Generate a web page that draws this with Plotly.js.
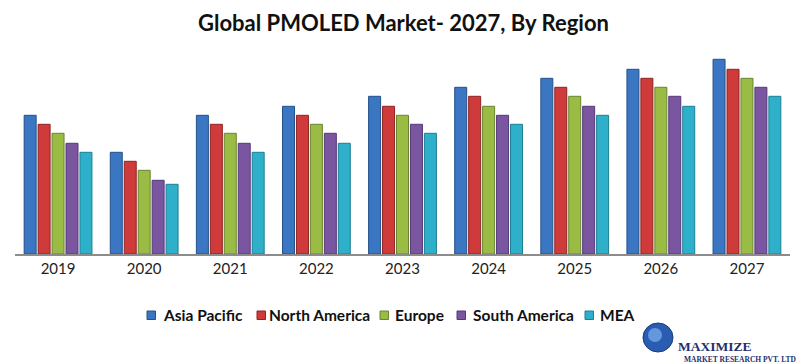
<!DOCTYPE html>
<html><head><meta charset="utf-8">
<script src="https://cdn.plot.ly/plotly-3.0.1.min.js"></script>
<style>html,body{margin:0;padding:0;background:#fff;}#chart{width:807px;height:364px;}</style>
</head><body><div id="chart"></div>
<script>
const years = ["2019","2020","2021","2022","2023","2024","2025","2026","2027"];
const seriesNames = ["Asia Pacific","North America","Europe","South America","MEA"];
const asiaPacific   = [138.7, 101.7, 138.7, 147.7, 157.7, 166.7, 175.7, 184.7, 194.7];
const northAmerica  = [129.7,  92.7, 129.7, 138.7, 147.7, 157.7, 166.7, 175.7, 184.7];
const europe        = [120.7,  83.7, 120.7, 129.7, 138.7, 147.7, 157.7, 166.7, 175.7];
const southAmerica  = [110.7,  73.7, 110.7, 120.7, 129.7, 138.7, 147.7, 157.7, 166.7];
const mea           = [101.7,  69.7, 101.7, 110.7, 120.7, 129.7, 138.7, 147.7, 157.7];
const seriesValues = [asiaPacific, northAmerica, europe, southAmerica, mea];
const colors = ["#3b76c2","#cf3a3a","#9abb44","#7a56a0","#2eb0cb"];
const lines  = ["#24508a","#8e2424","#6a8530","#54397a","#1d7f93"];

const traces = seriesNames.map((n,i)=>({
  type:"bar", name:n, x:years, y:seriesValues[i],
  marker:{color:colors[i], line:{color:lines[i], width:1}},
  hoverinfo:"skip", showlegend:false
}));

// plot area: x 15..790 px, y 54..254 px
const PX = px => (px-15)/775;
const PY = py => (254-py)/200;

// custom compact legend (marker left px, text left px)
const legendPos = [[147,161],[257,267],[380,393],[457,471],[585,598]];
const shapes = [];
const annotations = [];
seriesNames.forEach((n,i)=>{
  const [mx,tx] = legendPos[i];
  shapes.push({type:"rect", xref:"paper", yref:"paper", x0:PX(mx), x1:PX(mx+8.5), y0:PY(319.5), y1:PY(311),
    fillcolor:colors[i], line:{color:lines[i], width:1}});
  annotations.push({xref:"paper", yref:"paper", x:PX(tx), y:PY(315), xanchor:"left", yanchor:"middle",
    showarrow:false, text:"<b>"+n+"</b>", font:{family:"Lato, 'Open Sans', sans-serif", size:15.5, color:"#111"}});
});

// logo
shapes.push({type:"circle", xref:"paper", yref:"paper", x0:PX(643), x1:PX(673), y0:PY(352), y1:PY(323),
  fillcolor:"#2a5cb2", line:{color:"#1a3a7e", width:1}});
shapes.push({type:"circle", xref:"paper", yref:"paper", x0:PX(648), x1:PX(662), y0:PY(342), y1:PY(328),
  fillcolor:"rgba(150,200,255,0.55)", line:{width:0}});
annotations.push({xref:"paper", yref:"paper", x:PX(715), y:PY(346.5), xanchor:"center", yanchor:"middle", showarrow:false,
  borderpad:0, text:"<b>MAXIMIZE</b>", font:{family:"'Liberation Serif', serif", size:13.5, color:"#1f2f6e"}});
annotations.push({xref:"paper", yref:"paper", x:PX(740), y:PY(359.5), xanchor:"center", yanchor:"middle", showarrow:false,
  borderpad:0, text:"<b>MARKET RESEARCH PVT. LTD</b>", font:{family:"'Liberation Serif', serif", size:7.5, color:"#1f2f6e"}});

const layout = {
  width:807, height:364,
  margin:{l:15, r:17, t:54, b:110},
  paper_bgcolor:"#fff", plot_bgcolor:"#fff",
  title:{text:"<b>Global PMOLED Market- 2027, By Region</b>", x:0.5, xanchor:"center", y:0.935, yanchor:"middle",
         font:{family:"Lato, 'Open Sans', sans-serif", size:22, color:"#111"}},
  barmode:"group", bargap:0.19, bargroupgap:0.14,
  xaxis:{showgrid:false, zeroline:false, showline:true, linecolor:"#8c8c8c", linewidth:2,
         ticks:"", tickfont:{family:"Lato, 'Open Sans', sans-serif", size:15, color:"#222"}},
  yaxis:{range:[0,200], visible:false, showgrid:false, zeroline:false},
  showlegend:false,
  shapes:shapes,
  annotations:annotations
};
Plotly.newPlot("chart", traces, layout, {displayModeBar:false, staticPlot:true});
</script></body></html>
